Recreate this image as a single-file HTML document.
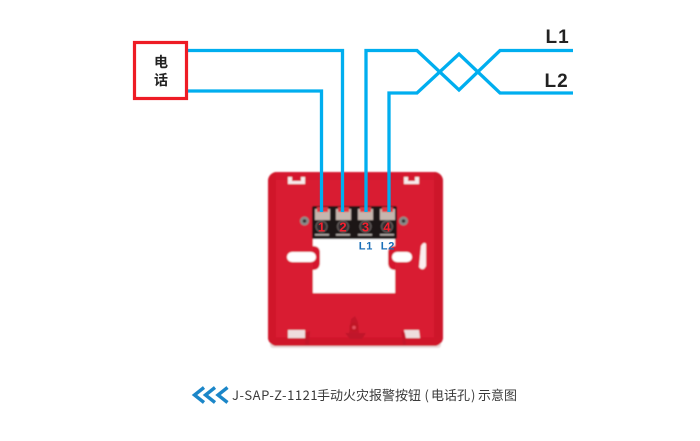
<!DOCTYPE html>
<html><head><meta charset="utf-8"><style>
html,body{margin:0;padding:0;background:#fff}
body{width:700px;height:441px;overflow:hidden;position:relative}
svg{position:absolute;left:0;top:0}
text{font-family:"Liberation Sans","Noto Sans CJK SC",sans-serif}
.c{font-family:"Noto Sans CJK SC","Liberation Sans",sans-serif}
</style></head><body>
<svg width="700" height="441" viewBox="0 0 700 441" xmlns="http://www.w3.org/2000/svg">
<defs>
<filter id="b" x="-5%" y="-5%" width="110%" height="110%"><feGaussianBlur stdDeviation="0.7"/></filter>
<clipPath id="dev"><rect x="268" y="172" width="175" height="174" rx="9"/></clipPath>
</defs>
<!-- device -->
<g filter="url(#b)">
<rect x="270" y="340" width="171" height="8" rx="3" fill="#e9dcdc"/>
<g clip-path="url(#dev)">
<rect x="268" y="172" width="175" height="175" fill="#d5192d"/>
<rect x="276" y="180" width="158" height="157" fill="#d91e33"/>
<rect x="268" y="172" width="8" height="175" fill="#d0182b"/>
<rect x="434" y="172" width="9" height="175" fill="#cd182b"/>
<rect x="268" y="338" width="175" height="9" fill="#cf192c"/>
</g>
<!-- window -->
<path d="M313 238 H395 V293 H313Z" fill="#fff"/>
<!-- slots -->
<path d="M288 177 H292 V181 H301 V177 H305 V184 H288Z" fill="#f6ecec"/>
<path d="M404 177 H408 V181 H415 V177 H419 V184 H404Z" fill="#f6ecec"/>
<rect x="288" y="330" width="17" height="8" fill="#eedede"/>
<path d="M404 330 H419 L420 338 H406Z" fill="#eedede"/>
<path d="M305 333 L310 331 L309 345 H305Z" fill="#c4162a"/>
<path d="M401 331 L405 333 L406 345 H403Z" fill="#c4162a"/>
<path d="M313 246 Q320 246 320 253 V262 Q320 270 313 270Z" fill="#d5192d"/>
<path d="M395 246 Q388 246 388 253 V262 Q388 270 395 270Z" fill="#d5192d"/>
<rect x="287" y="252" width="29" height="10" rx="5" fill="#fff"/>
<rect x="392" y="252" width="20" height="10" rx="5" fill="#fff"/>
<path d="M421 246 Q424 241 426 244 L426 266 Q423 272 419 267Z" fill="#fbeeee"/>
<!-- peg -->
<path d="M351 319 L355 316 L358 322 L359 333 H349Z" fill="#c4172a"/>
<circle cx="354" cy="327" r="4.5" fill="#c01427"/>
<circle cx="354" cy="327.5" r="1.8" fill="#e6505f"/>
<path d="M345 333 H366 L362 339 H350Z" fill="#c0172a"/>
<!-- screws -->
<circle cx="304.5" cy="221" r="4.5" fill="#8a8a88"/>
<circle cx="403.5" cy="221" r="4.5" fill="#8a8a88"/>
<circle cx="304.5" cy="221" r="1.8" fill="#333"/>
<circle cx="403.5" cy="221" r="1.8" fill="#333"/>
<!-- terminal -->
<rect x="312" y="206" width="85" height="33" rx="2" fill="#1a1416"/>
<g fill="#c5b6ae">
<rect x="315" y="209" width="15" height="11"/><rect x="336" y="209" width="15" height="11"/><rect x="358" y="209" width="15" height="11"/><rect x="380" y="209" width="15" height="11"/>
</g>
<g fill="#e2303f">
<rect x="317" y="207" width="11" height="5"/><rect x="338" y="207" width="11" height="5"/><rect x="360" y="207" width="11" height="5"/><rect x="382" y="207" width="11" height="5"/>
</g>
<g fill="#332c2d" stroke="#6d6664" stroke-width="1">
<circle cx="321.5" cy="226.5" r="5.5"/><circle cx="343" cy="226.5" r="5.5"/><circle cx="365.5" cy="226.5" r="5.5"/><circle cx="387" cy="226.5" r="5.5"/>
</g>
<g fill="#b5aeaa">
<rect x="315" y="234" width="14" height="1.6"/><rect x="336" y="234" width="14" height="1.6"/><rect x="358" y="234" width="14" height="1.6"/><rect x="380" y="234" width="14" height="1.6"/>
</g>
</g>
<g font-size="13" font-weight="700" fill="#f4202e" text-anchor="middle">
<text x="321.5" y="231.5">1</text><text x="343" y="231.5">2</text><text x="365.5" y="231.5">3</text><text x="387" y="231.5">4</text>
</g>
<text x="366" y="249.5" font-size="11" font-weight="700" fill="#1a6fb8" text-anchor="middle" letter-spacing=".8">L1</text>
<text x="388" y="249.5" font-size="11" font-weight="700" fill="#1a6fb8" text-anchor="middle" letter-spacing=".8">L2</text>
<!-- wires -->
<g fill="none" stroke="#00aeef" stroke-width="3.3" stroke-linejoin="miter">
<path d="M188 50.5 H342.5 V212"/>
<path d="M188 91 H321.5 V212"/>
<path d="M366 212 V50.5 H417 L459 90 L500 50.5 H573"/>
<path d="M389 212 V93 H417 L459 54 L500 93 H573"/>
</g>
<!-- phone box -->
<rect x="134.5" y="42.5" width="52" height="56" fill="#fff" stroke="#ee1c25" stroke-width="3.2"/>
<text x="161" y="67" font-size="14" font-weight="700" fill="#222" text-anchor="middle">电</text>
<text x="161" y="85" font-size="14" font-weight="700" fill="#222" text-anchor="middle">话</text>
<text x="545.5" y="43" font-size="19" font-weight="700" fill="#222" letter-spacing="1">L1</text>
<text x="544.5" y="87" font-size="19" font-weight="700" fill="#222" letter-spacing="1">L2</text>
<!-- caption chevrons -->
<g fill="none" stroke="#1b86c8" stroke-width="3.4">
<path d="M204 387.5 L194.5 395 L204 402.5"/>
<path d="M215 387.5 L205.5 395 L215 402.5"/>
<path d="M227.5 387.5 L218 395 L227.5 402.5"/>
</g>
<text class="c" y="400" font-size="13" fill="#3a3a3a"><tspan x="232" letter-spacing=".55">J-SAP-Z-1121</tspan><tspan x="317">手动火灾报警按钮</tspan><tspan x="424.5">(</tspan><tspan x="431">电话孔</tspan><tspan x="471">)</tspan><tspan x="478">示意图</tspan></text>
</svg>
</body></html>
